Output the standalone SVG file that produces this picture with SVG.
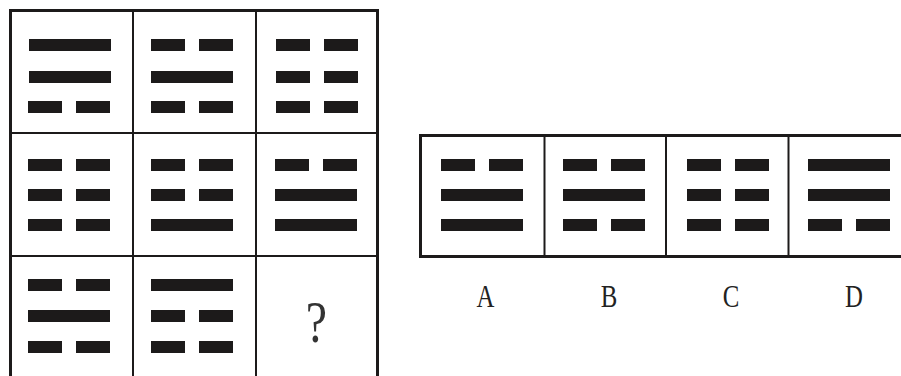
<svg xmlns="http://www.w3.org/2000/svg" xmlns:xlink="http://www.w3.org/1999/xlink" width="901" height="376" viewBox="0 0 901 376">
<style>
.outer{fill:none;stroke:#1c1a1a;stroke-width:3}
.inner{fill:none;stroke:#1c1a1a;stroke-width:2}
.bar{fill:#1c1a1a}
.lbl{font-family:"Liberation Serif","Times New Roman",serif;font-size:31px;fill:#222;text-anchor:middle}
.q{font-family:"Liberation Serif","Times New Roman",serif;font-size:60px;fill:#333;text-anchor:middle}
</style>
<defs>
<rect id="full" class="bar" x="0" y="0" width="82" height="12"/>
<g id="broken"><rect class="bar" x="0" y="0" width="34" height="12"/><rect class="bar" x="48" y="0" width="34" height="12"/></g>
</defs>
<rect width="901" height="376" fill="#fff"/>
<g id="grid-frame">
<rect class="outer" x="10.5" y="10.5" width="367" height="380"/>
<line class="inner" x1="133" y1="10.5" x2="133" y2="376"/>
<line class="inner" x1="256" y1="10.5" x2="256" y2="376"/>
<line class="inner" x1="10.5" y1="133" x2="377.5" y2="133"/>
<line class="inner" x1="10.5" y1="256" x2="377.5" y2="256"/>
</g>
<g id="cell-1-1"><use xlink:href="#full" x="29" y="39"/><use xlink:href="#full" x="29" y="71"/><use xlink:href="#broken" x="28" y="101"/></g>
<g id="cell-1-2"><use xlink:href="#broken" x="151" y="39"/><use xlink:href="#full" x="151" y="71"/><use xlink:href="#broken" x="151" y="101"/></g>
<g id="cell-1-3"><use xlink:href="#broken" x="276" y="39"/><use xlink:href="#broken" x="276" y="71"/><use xlink:href="#broken" x="276" y="101"/></g>
<g id="cell-2-1"><use xlink:href="#broken" x="28" y="159"/><use xlink:href="#broken" x="28" y="189"/><use xlink:href="#broken" x="28" y="219"/></g>
<g id="cell-2-2"><use xlink:href="#broken" x="151" y="159"/><use xlink:href="#broken" x="151" y="189"/><use xlink:href="#full" x="151" y="219"/></g>
<g id="cell-2-3"><use xlink:href="#broken" x="275" y="159"/><use xlink:href="#full" x="275" y="189"/><use xlink:href="#full" x="275" y="219"/></g>
<g id="cell-3-1"><use xlink:href="#broken" x="28" y="279"/><use xlink:href="#full" x="28" y="310"/><use xlink:href="#broken" x="28" y="341"/></g>
<g id="cell-3-2"><use xlink:href="#full" x="151" y="279"/><use xlink:href="#broken" x="151" y="310"/><use xlink:href="#broken" x="151" y="341"/></g>
<g id="cell-3-3"><text class="q" transform="translate(316.5,342) scale(0.8,1)">?</text></g>
<g id="options-frame">
<rect class="outer" x="420.5" y="135.5" width="495" height="121"/>
<line class="inner" x1="544.5" y1="135.5" x2="544.5" y2="256.5"/>
<line class="inner" x1="666" y1="135.5" x2="666" y2="256.5"/>
<line class="inner" x1="788.5" y1="135.5" x2="788.5" y2="256.5"/>
</g>
<g id="option-A"><use xlink:href="#broken" x="441" y="159"/><use xlink:href="#full" x="441" y="189"/><use xlink:href="#full" x="441" y="219"/><text class="lbl" transform="translate(485.5,306.5) scale(0.8,1)">A</text></g>
<g id="option-B"><use xlink:href="#broken" x="563" y="159"/><use xlink:href="#full" x="563" y="189"/><use xlink:href="#broken" x="563" y="219"/><text class="lbl" transform="translate(609,306.5) scale(0.8,1)">B</text></g>
<g id="option-C"><use xlink:href="#broken" x="687" y="159"/><use xlink:href="#broken" x="687" y="189"/><use xlink:href="#broken" x="687" y="219"/><text class="lbl" transform="translate(731,306.5) scale(0.8,1)">C</text></g>
<g id="option-D"><use xlink:href="#full" x="808" y="159"/><use xlink:href="#full" x="808" y="189"/><use xlink:href="#broken" x="808" y="219"/><text class="lbl" transform="translate(854,306.5) scale(0.8,1)">D</text></g>
</svg>
